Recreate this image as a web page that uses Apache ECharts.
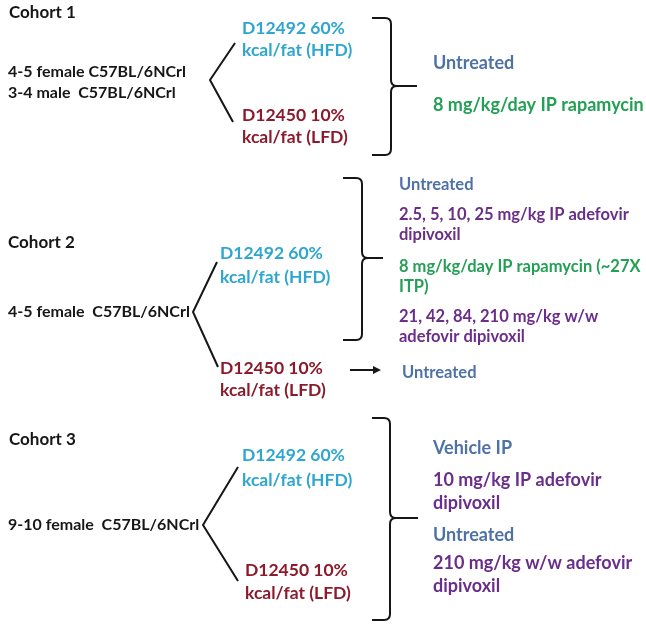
<!DOCTYPE html>
<html>
<head>
<meta charset="utf-8">
<script src="https://cdn.jsdelivr.net/npm/echarts@6/dist/echarts.min.js"></script>
<style>
html,body{margin:0;padding:0;background:#fff;}
#chart{width:646px;height:627px;}
</style>
</head>
<body>
<div id="chart"></div>
<script>
// ---- content (texts) ----
const cohortLabels = ['Cohort 1', 'Cohort 2', 'Cohort 3'];
const mouseGroups1 = ['4-5 female C57BL/6NCrl', '3-4 male  C57BL/6NCrl'];
const mouseGroups2 = ['4-5 female  C57BL/6NCrl'];
const mouseGroups3 = ['9-10 female  C57BL/6NCrl'];
const hfdLabel = ['D12492 60%', 'kcal/fat (HFD)'];
const lfdLabel = ['D12450 10%', 'kcal/fat (LFD)'];
const treatments1 = [['Untreated'], ['8 mg/kg/day IP rapamycin']];
const treatmentKinds1 = ['untreated', 'rapamycin'];
const treatments2 = [['Untreated'], ['2.5, 5, 10, 25 mg/kg IP adefovir', 'dipivoxil'], ['8 mg/kg/day IP rapamycin (~27X', 'ITP)'], ['21, 42, 84, 210 mg/kg w/w', 'adefovir dipivoxil']];
const treatmentKinds2 = ['untreated', 'adefovir', 'rapamycin', 'adefovir'];
const lfdTreatments2 = [['Untreated']];
const lfdTreatmentKinds2 = ['untreated'];
const treatments3 = [['Vehicle IP'], ['10 mg/kg IP adefovir', 'dipivoxil'], ['Untreated'], ['210 mg/kg w/w adefovir', 'dipivoxil']];
const treatmentKinds3 = ['untreated', 'adefovir', 'untreated', 'adefovir'];

// ---- styles ----
const colors = {
  black: '#161616',
  hfd: '#2ea6cf',
  lfd: '#8a1a2c',
  untreated: '#4e72a6',
  rapamycin: '#23a055',
  adefovir: '#6a2e8a'
};
const FONT = 'Lato';
const FS_COHORT = 17, FS_MICE = 16, FS_DIET = 17.5;

// ---- layout (pixel space of a 646x627 hidden cartesian grid) ----
const layout = [
  { // cohort 1
    cohort: [9, 13],
    mice: [8, 72, 21],
    hfd: [242, 28, 22],
    lfd: [242, 115, 22],
    treatX: 433, treatY: [63, 105], treatLH: 20, treatFS: 18,
    branch: [[210, 80], [235, 43], [233, 122]],
    brace: [372, 391, 18, 86, 155, 417]
  },
  { // cohort 2
    cohort: [8, 243],
    mice: [8, 312, 21],
    hfd: [220, 253, 24],
    lfd: [220, 368, 22],
    treatX: 399, treatY: [185, 215, 267, 317], treatLH: 20, treatFS: 16.5,
    lfdTreatX: 402, lfdTreatY: [373],
    branch: [[193, 312], [217, 262], [218, 367]],
    brace: [343, 362, 178, 258, 340, 383],
    arrow: [[350, 370], [381, 370]]
  },
  { // cohort 3
    cohort: [9, 440],
    mice: [8, 525, 21],
    hfd: [242, 455, 25],
    lfd: [245, 570, 23],
    treatX: 433, treatY: [448, 480, 535, 563], treatLH: 23, treatFS: 18,
    branch: [[203, 525], [238, 467], [238, 581]],
    brace: [372, 390, 418, 518, 620, 418]
  }
];

const mice = [mouseGroups1, mouseGroups2, mouseGroups3];
const treats = [treatments1, treatments2, treatments3];
const kinds = [treatmentKinds1, treatmentKinds2, treatmentKinds3];

// ---- build text items ----
const textItems = [];
function addLines(lines, x, y, lh, color, fs) {
  lines.forEach((t, i) => textItems.push({ value: [x, y + i * lh], text: t, color: color, fs: fs }));
}
layout.forEach((L, c) => {
  addLines([cohortLabels[c]], L.cohort[0], L.cohort[1], 0, colors.black, FS_COHORT);
  addLines(mice[c], L.mice[0], L.mice[1], L.mice[2], colors.black, FS_MICE);
  addLines(hfdLabel, L.hfd[0], L.hfd[1], L.hfd[2], colors.hfd, FS_DIET);
  addLines(lfdLabel, L.lfd[0], L.lfd[1], L.lfd[2], colors.lfd, FS_DIET);
  treats[c].forEach((lines, i) => addLines(lines, L.treatX, L.treatY[i], L.treatLH, colors[kinds[c][i]], L.treatFS));
  if (c === 1) {
    lfdTreatments2.forEach((lines, i) => addLines(lines, L.lfdTreatX, L.lfdTreatY[i], 20, colors[lfdTreatmentKinds2[i]], L.treatFS));
  }
});

const branchItems = layout.map(L => ({ value: [].concat(L.branch[0], L.branch[1], L.branch[2]) }));
const braceItems = layout.map(L => ({ value: L.brace }));
const arrowItems = layout.filter(L => L.arrow).map(L => ({ value: [].concat(L.arrow[0], L.arrow[1]) }));

const chart = echarts.init(document.getElementById('chart'), null, { renderer: 'canvas' });

const option = {
  animation: false,
  backgroundColor: '#ffffff',
  grid: { left: 0, right: 0, top: 0, bottom: 0 },
  xAxis: { type: 'value', min: 0, max: 646, show: false },
  yAxis: { type: 'value', min: 0, max: 627, inverse: true, show: false },
  series: [
    {
      type: 'custom',
      name: 'branches',
      data: branchItems,
      renderItem: function (params, api) {
        const v = [0, 1, 2, 3, 4, 5].map(i => api.value(i));
        const a = api.coord([v[0], v[1]]);
        const b = api.coord([v[2], v[3]]);
        const d = api.coord([v[4], v[5]]);
        return {
          type: 'polyline',
          shape: { points: [b, a, d] },
          style: { stroke: colors.black, lineWidth: 2, fill: null }
        };
      }
    },
    {
      type: 'custom',
      name: 'braces',
      data: braceItems,
      renderItem: function (params, api) {
        const xl = api.value(0), xv = api.value(1), top = api.value(2), mid = api.value(3), bot = api.value(4), tip = api.value(5);
        const P = (x, y) => api.coord([x, y]);
        const r = 6;
        const p = [
          P(xl, top), P(xv - r, top), P(xv, top), P(xv, top + r),
          P(xv, mid - r), P(xv, mid), P(xv + r, mid), P(tip, mid),
          P(xv, mid + r), P(xv, bot - r), P(xv, bot), P(xv - r, bot), P(xl, bot)
        ];
        const s = q => q[0].toFixed(1) + ' ' + q[1].toFixed(1);
        const path = 'M' + s(p[0]) + ' L' + s(p[1]) + ' Q' + s(p[2]) + ' ' + s(p[3]) +
          ' L' + s(p[4]) + ' Q' + s(p[5]) + ' ' + s(p[6]) + ' L' + s(p[7]) +
          ' M' + s(p[6]) + ' Q' + s(p[5]) + ' ' + s(p[8]) + ' L' + s(p[9]) +
          ' Q' + s(p[10]) + ' ' + s(p[11]) + ' L' + s(p[12]);
        return {
          type: 'path',
          shape: { pathData: path },
          style: { stroke: colors.black, lineWidth: 2, fill: null }
        };
      }
    },
    {
      type: 'custom',
      name: 'arrows',
      data: arrowItems,
      renderItem: function (params, api) {
        const a = api.coord([api.value(0), api.value(1)]);
        const b = api.coord([api.value(2), api.value(3)]);
        return {
          type: 'group',
          children: [
            { type: 'line', shape: { x1: a[0], y1: a[1], x2: b[0] - 6, y2: b[1] }, style: { stroke: colors.black, lineWidth: 2 } },
            { type: 'polygon', shape: { points: [[b[0], b[1]], [b[0] - 8, b[1] - 4], [b[0] - 8, b[1] + 4]] }, style: { fill: colors.black } }
          ]
        };
      }
    },
    {
      type: 'custom',
      name: 'texts',
      data: textItems,
      renderItem: function (params, api) {
        const item = textItems[params.dataIndex];
        const pt = api.coord([api.value(0), api.value(1)]);
        return {
          type: 'text',
          style: {
            text: item.text,
            x: pt[0], y: pt[1],
            fill: item.color,
            fontFamily: FONT,
            fontSize: item.fs,
            fontWeight: 'bold',
            align: 'left',
            verticalAlign: 'middle'
          }
        };
      }
    }
  ]
};
chart.setOption(option);
</script>
</body>
</html>
